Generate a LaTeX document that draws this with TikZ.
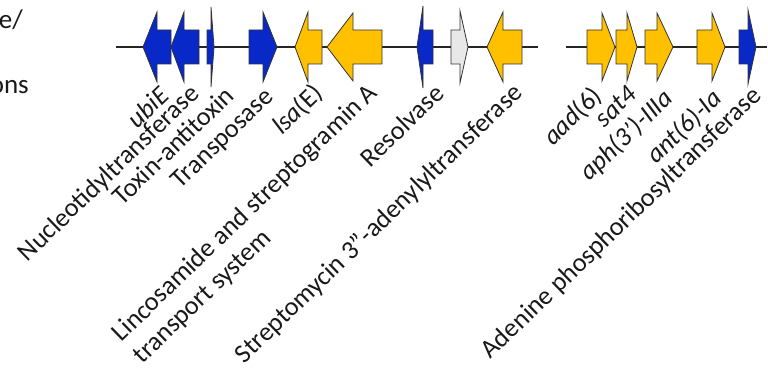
\documentclass[tikz,border=0pt]{standalone}
\usepackage{fontspec}
\setmainfont{Carlito}
\definecolor{gblue}{RGB}{8,40,200}
\definecolor{ggold}{RGB}{255,192,0}
\definecolor{ggrey}{RGB}{232,232,232}
\tikzset{
  backbone/.style={line width=1.5pt, black!85},
  genebox/.style={draw=black!80, line width=0.8pt, line join=miter},
  bluegene/.style={genebox, fill=gblue},
  goldgene/.style={genebox, fill=ggold},
  greygene/.style={genebox, fill=ggrey},
  lbl/.style={font=\fontsize{26.3}{30.5}\selectfont, rotate=44, anchor=north east, inner sep=0pt, text=black!90},
  sidetxt/.style={font=\fontsize{27}{32}\selectfont, anchor=base east, inner sep=0pt, text=black!90},
}
% #1 style, #2 tip x, #3 head-base x, #4 tail x, #5 head half height
\newcommand{\genearrow}[5]{%
  \draw[#1] (#2,-47) -- (#3,-47+#5) -- (#3,-30) -- (#4,-30) -- (#4,-64) -- (#3,-64) -- (#3,-47-#5) -- cycle;}
\begin{document}
\begin{tikzpicture}[x=1pt,y=1pt]
\useasboundingbox (0,0) rectangle (768,-371);
\clip (0,0) rectangle (768,-371);
% partial side texts
\node[sidetxt] (t1) at (23,-29) {e/};
\node[sidetxt] (t2) at (29,-94) {ons};
% backbones
\coordinate (b1s) at (116,-47);
\coordinate (b1e) at (538,-47);
\coordinate (b2s) at (566,-47);
\coordinate (b2e) at (767,-47);
\draw[backbone] (b1s) -- (b1e);
\draw[backbone] (b2s) -- (b2e);
% genes
\genearrow{bluegene}{143}{157}{171}{35}
\genearrow{bluegene}{171}{184}{199}{35}
\genearrow{bluegene}{214}{211}{207}{40}
\genearrow{bluegene}{277}{263}{249}{35}
\genearrow{goldgene}{295}{308}{322}{35}
\genearrow{goldgene}{327}{353}{382}{34}
\genearrow{bluegene}{417}{423}{433}{41}
\genearrow{greygene}{468}{460}{451}{36}
\genearrow{goldgene}{487}{503}{522}{35}
\genearrow{goldgene}{615}{602}{587}{34}
\genearrow{goldgene}{637}{627}{616}{34}
\genearrow{goldgene}{673}{657}{645}{34}
\genearrow{goldgene}{725}{712}{697}{34}
\genearrow{bluegene}{756}{748}{739}{37}
% labels
\node[lbl] (l1) at (158,-84) {\textit{ubiE}};
\node[lbl] (l2) at (188,-82) {Nucleotidyltransferase};
\node[lbl] (l3) at (223,-84) {Toxin-antitoxin};
\node[lbl] (l4) at (263,-86) {Transposase};
\node[lbl] (l5) at (311,-81) {\textit{lsa}(E)};
\node[lbl, align=left] (l6) at (366,-81) {Lincosamide and streptogramin A\\transport system};
\node[lbl] (l7) at (433,-82) {Resolvase};
\node[lbl] (l8) at (511,-81) {Streptomycin 3''-adenylyltransferase};
\node[lbl] (l9) at (590,-84) {\textit{aad}(6)};
\node[lbl] (l10) at (626,-84) {\textit{sat4}};
\node[lbl] (l11) at (661,-86) {\textit{aph(3')-IIIa}};
\node[lbl] (l12) at (710,-86) {\textit{ant(6)-Ia}};
\node[lbl] (l13) at (750,-84) {Adenine phosphoribosyltransferase};
\end{tikzpicture}
\end{document}
